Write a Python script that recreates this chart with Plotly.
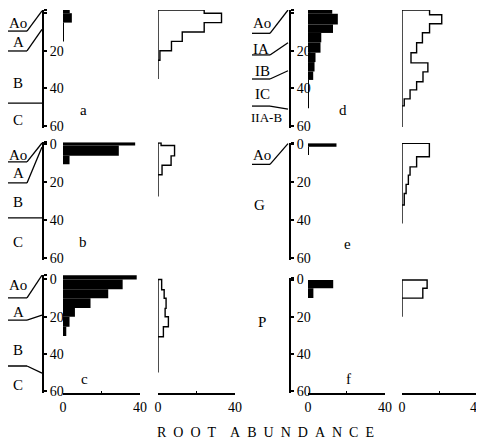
import plotly.graph_objects as go

# The page body has an 8px margin, so the figure is laid out in reference-pixel
# coordinates shifted by OFF and sized to the visible window.
OFF = 8
FW, FH = 484 - OFF, 444 - OFF
FONT = "Liberation Serif, Times New Roman, serif"

# ---------------- data: layer boundaries (cm depth) and root abundance ----------------
panel_names = ["a", "b", "c", "d", "e", "f"]

a_fill_depth = [-1.7, 0, 5, 15]
a_fill_value = [3.5, 4.6, 0.5]
a_line_depth = [-1.7, 0, 5, 10, 15, 20, 25, 35]
a_line_value = [24, 33, 24, 12.6, 7, 1, 0]

b_fill_depth = [-1.2, 0.5, 6, 10.5]
b_fill_value = [37.5, 29, 3.4]
b_line_depth = [-0.8, 0.5, 6, 11, 16, 27.5]
b_line_value = [1.6, 8.6, 6.8, 2.1, 0]

c_fill_depth = [-2.3, 0, 5.3, 10.1, 15.3, 20, 25.4, 30.4]
c_fill_value = [38.3, 31, 23.5, 14.3, 6.2, 3.4, 1.7]
c_line_depth = [0, 5.5, 10.1, 15.5, 20, 25.4, 30.8, 50]
c_line_value = [1.9, 3.2, 4.2, 3.7, 5.4, 2.8, 0]

d_fill_depth = [-1.7, 0.3, 6, 10.5, 15.5, 21, 26, 31, 35.5, 50.5]
d_fill_value = [12.6, 15.5, 13, 6.9, 6.5, 3.9, 3.4, 2.7, 0.4]
d_line_depth = [-1.7, 0.8, 5.6, 10.4, 15.7, 21, 26.4, 31.2, 36.5, 40.8, 45.6, 49.3, 60.5]
d_line_value = [14.7, 21.2, 14.7, 10.9, 7.8, 4.8, 13.8, 11.2, 7.8, 4.3, 1.2, 0]

e_fill_depth = [-0.6, 1.2, 5.5]
e_fill_value = [14.8, 0.4]
e_line_depth = [-0.6, 6.5, 11.8, 16.2, 21.1, 25.9, 32, 41.8]
e_line_value = [14.6, 7.8, 4.3, 3.4, 2.2, 1.2, 0]

f_fill_depth = [0.3, 4.7, 10]
f_fill_value = [13.1, 2.8]
f_line_depth = [0.3, 4.7, 10, 20]
f_line_value = [13.4, 11.1, 0]

depth_ticks = [0, 20, 40, 60]
depth_ticktext = ["0", "20", "40", "60"]
abund_ticks = [0, 20, 40]
abund_ticktext = ["0", "", "40"]

horizon_labels = {
    "a": [("Ao", 5.2), ("A", 15.3), ("B", 37), ("C", 56.8)],
    "b": [("Ao", 5.5), ("A", 15), ("B", 30.4), ("C", 51.5)],
    "c": [("Ao", 3), ("A", 17.5), ("B", 37.9), ("C", 56.7)],
    "d": [("Ao", 5.2), ("IA", 19.3), ("IB", 30.6), ("IC", 43), ("IIA-B", 55.7)],
    "e": [("Ao", 5.5), ("G", 32)],
    "f": [("P", 22.8)],
}
# horizon boundary lines: (depth of underline, depth where it meets the axis)
horizon_bounds = {
    "a": [(9.5, -1.2), (20.1, 8.6), (47.8, 47.8)],
    "b": [(9.2, -0.8), (20.3, 1.3), (38.8, 38.8)],
    "c": [(9.9, -2.3), (21.8, 19.1), (46.5, 50.3)],
    "d": [(10.7, -1.7), (22.2, 15.7), (35, 30.6), (49.4, 51)],
    "e": [(10.5, -0.5)],
    "f": [],
}

fills = {"a": (a_fill_depth, a_fill_value), "b": (b_fill_depth, b_fill_value),
         "c": (c_fill_depth, c_fill_value), "d": (d_fill_depth, d_fill_value),
         "e": (e_fill_depth, e_fill_value), "f": (f_fill_depth, f_fill_value)}
lines = {"a": (a_line_depth, a_line_value), "b": (b_line_depth, b_line_value),
         "c": (c_line_depth, c_line_value), "d": (d_line_depth, d_line_value),
         "e": (e_line_depth, e_line_value), "f": (f_line_depth, f_line_value)}

# ---------------- layout geometry (reference pixels) ----------------
rows = {1: (13.2, 1.88), 2: (144.5, 1.892), 3: (279.5, 1.86)}   # y of depth 0, px per cm
cols = {
    "L": dict(axis=43, fill=(63, 140), line=(158, 235), xl=8, xm=27, xa=42),
    "R": dict(axis=290, fill=(308, 385), line=(402, 477), xl=252, xm=270, xa=288),
}
panel_pos = {"a": (1, "L"), "b": (2, "L"), "c": (3, "L"),
             "d": (1, "R"), "e": (2, "R"), "f": (3, "R")}
panel_top = {"a": -1.7, "b": -1.2, "c": -2.4, "d": -1.7, "e": -0.8, "f": -0.8}
depth_bottom = 61.1
label_x = {"L": {"Ao": 17.5, "A": 18.5, "B": 17.5, "C": 17.5},
           "R": {"Ao": 262, "IA": 261, "IB": 262, "IC": 262, "IIA-B": 266, "G": 259, "P": 262}}
letter_pos = {"a": (83, 51.5), "b": (83, 51.5), "c": (84, 53.4),
              "d": (343, 51.5), "e": (347.5, 52.5), "f": (348, 53.4)}

fig = go.Figure()
layout = dict(width=FW, height=FH, margin=dict(l=0, r=0, t=0, b=0, autoexpand=False),
              paper_bgcolor="white", plot_bgcolor="rgba(0,0,0,0)",
              showlegend=False, barmode="overlay")
shapes, annotations = [], []

def px(x):
    return (x - OFF) / FW

def py(y):
    return 1 - (y - OFF) / FH

for i, p in enumerate(panel_names):
    row, col = panel_pos[p]
    y0, k = rows[row]
    c = cols[col]
    top = panel_top[p]
    ytop_px = y0 + k * top
    ybot_px = y0 + k * depth_bottom
    yid = i + 1
    xf, xl_ = 2 * i + 1, 2 * i + 2
    ya = "y" if yid == 1 else f"y{yid}"

    layout[f"yaxis{yid}"] = dict(
        domain=[py(ybot_px), py(ytop_px)], range=[depth_bottom, top],
        anchor="free", position=px(c["axis"]), side="right", automargin=False,
        showline=True, linecolor="black", linewidth=2, showgrid=False, zeroline=False,
        ticks="outside", ticklen=3, tickcolor="black", tickwidth=1.5,
        tickvals=[top] + depth_ticks, ticktext=[""] + depth_ticktext,
        tickfont=dict(family=FONT, size=14, color="black"))
    for xid, key in ((xf, "fill"), (xl_, "line")):
        ax = dict(domain=[px(c[key][0]), px(c[key][1])], range=[0, 40.01], anchor=ya,
                  showgrid=False, zeroline=False, automargin=False)
        if row == 3:
            ax.update(showline=True, linecolor="black", linewidth=1.5,
                      tickvals=abund_ticks, ticktext=abund_ticktext,
                      ticks="inside", ticklen=2, tickcolor="black",
                      ticklabeloverflow="allow",
                      tickfont=dict(family=FONT, size=14, color="black"))
        else:
            ax.update(visible=False)
        layout[f"xaxis{xid}"] = ax

    # filled bars
    dep, val = fills[p]
    centers = [(dep[j] + dep[j + 1]) / 2 for j in range(len(val))]
    widths = [dep[j + 1] - dep[j] for j in range(len(val))]
    fig.add_trace(go.Bar(x=val, y=centers, width=widths, orientation="h",
                         marker=dict(color="black", line=dict(width=0)),
                         xaxis=f"x{xf}", yaxis=ya, hoverinfo="skip"))
    # outline step profile
    dep, val = lines[p]
    xs, ys = [0], [dep[0]]
    for j, v in enumerate(val):
        xs += [v, v]
        ys += [dep[j], dep[j + 1]]
    xs += [0, 0]
    ys += [dep[-1], dep[0]]
    fig.add_trace(go.Scatter(x=xs, y=ys, mode="lines",
                             line=dict(color="black", width=1.4),
                             xaxis=f"x{xl_}", yaxis=ya, hoverinfo="skip"))

    # horizon labels
    for lab, d in horizon_labels[p]:
        annotations.append(dict(text=lab, x=px(label_x[col][lab]), y=d, xref="paper", yref=ya,
                                showarrow=False, xanchor="center", yanchor="middle",
                                font=dict(family=FONT, size=15 if lab != "IIA-B" else 13,
                                          color="black")))
    for du, da in horizon_bounds[p]:
        if du == da:
            shapes.append(dict(type="line", xref="paper", yref=ya, x0=px(c["xl"]), x1=px(c["xa"]),
                               y0=du, y1=du, line=dict(color="black", width=1.3)))
        else:
            shapes.append(dict(type="line", xref="paper", yref=ya, x0=px(c["xl"]), x1=px(c["xm"]),
                               y0=du, y1=du, line=dict(color="black", width=1.3)))
            shapes.append(dict(type="line", xref="paper", yref=ya, x0=px(c["xm"]), x1=px(c["xa"]),
                               y0=du, y1=da, line=dict(color="black", width=1.3)))
    lx, ld = letter_pos[p]
    annotations.append(dict(text=p, x=px(lx), y=ld, xref="paper", yref=ya, showarrow=False,
                            xanchor="center", yanchor="middle",
                            font=dict(family=FONT, size=15, color="black")))

nb = "\u00a0"
title_text = (nb * 4).join((nb * 2).join(list(w)) for w in ["ROOT", "ABUNDANCE"])
annotations.append(dict(text=title_text, x=px(265), y=py(432), xref="paper", yref="paper",
                        showarrow=False, xanchor="center", yanchor="middle",
                        font=dict(family=FONT, size=14, color="black")))

layout["shapes"] = shapes
layout["annotations"] = annotations
fig.update_layout(**layout)
fig.write_html("out.html")
